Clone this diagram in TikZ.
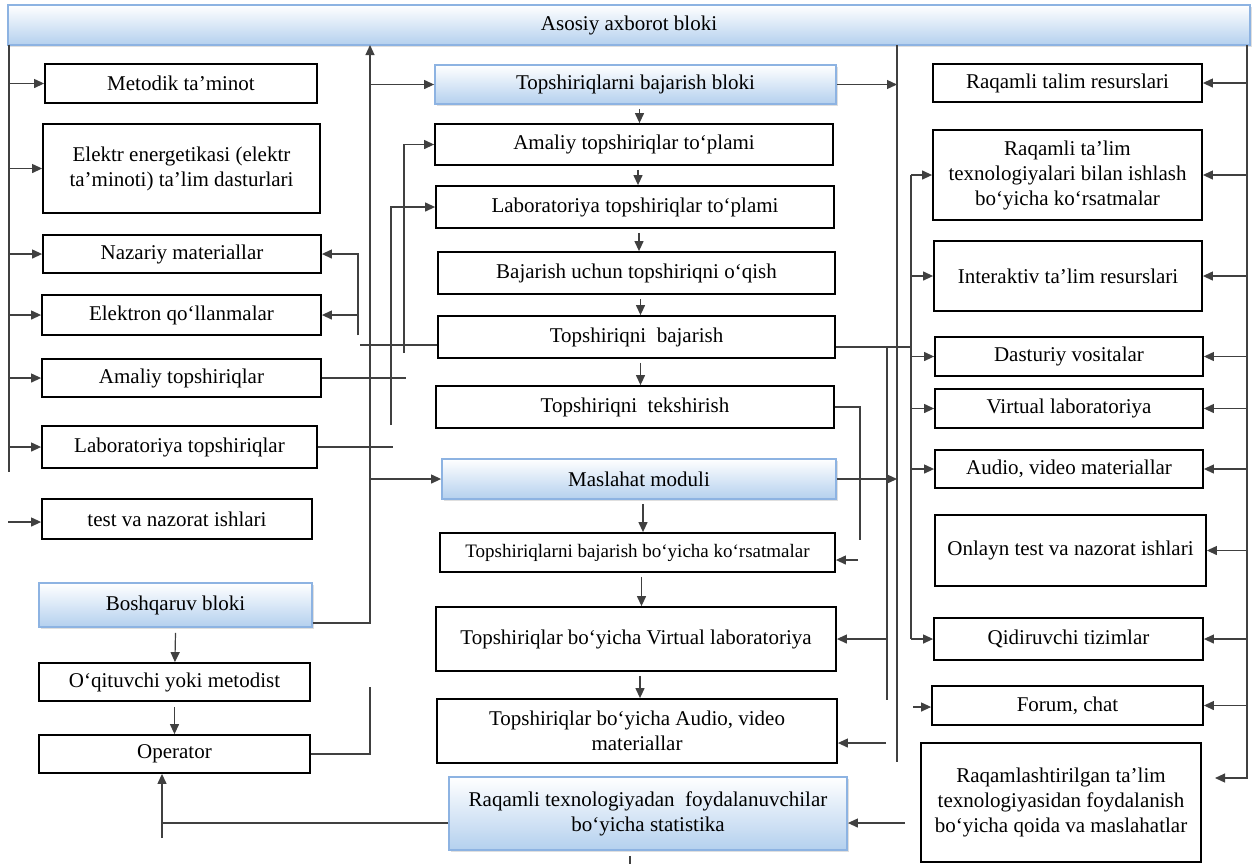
\documentclass[tikz,border=0pt]{standalone}
\usepackage{fontspec}
\setmainfont{Liberation Serif}
\usetikzlibrary{arrows.meta,positioning,calc,shadows}

\definecolor{blueedge}{HTML}{8DB3E2}
\definecolor{bluefill}{HTML}{B4D0EE}
\definecolor{wire}{HTML}{404040}

\begin{document}
\begin{tikzpicture}[
    x=0.5pt, y=-0.5pt,
    box/.style={rectangle, draw, line width=0.9pt, align=center, inner sep=1pt, font=\fontsize{10.5}{12.5}\selectfont},
    bluebox/.style={box, draw=blueedge, top color=white, bottom color=bluefill, drop shadow={shadow xshift=1pt, shadow yshift=-1pt, opacity=0.25}},
    line/.style={wire, line width=0.6pt},
    arrow/.style={line, -{Triangle[length=5pt,width=4.5pt]}}
]
\useasboundingbox (0,0) rectangle (1257,864);

% Top block
\node[bluebox, minimum width=621pt, minimum height=20pt] (asosiy) at (629,25) {Asosiy axborot bloki};

% Left column
\node[box, minimum width=136pt, minimum height=19.5pt] (metod) at (181,83.5) {Metodik ta’minot};
\node[box, minimum width=138.5pt, minimum height=44.5pt] (elektr) at (181.5,168.5) {Elektr energetikasi (elektr\\ta’minoti) ta’lim dasturlari};
\node[box, minimum width=139pt, minimum height=19pt] (nazariy) at (182,254) {Nazariy materiallar};
\node[box, minimum width=139.5pt, minimum height=20pt] (elektron) at (181.5,315) {Elektron qo‘llanmalar};
\node[box, minimum width=139.5pt, minimum height=19pt] (amaliy) at (181.5,378) {Amaliy topshiriqlar};
\node[box, minimum width=137.5pt, minimum height=21pt] (labor) at (179.5,447) {Laboratoriya topshiriqlar};
\node[box, minimum width=135pt, minimum height=20pt] (test) at (177,519) {test va nazorat ishlari};
\node[bluebox, minimum width=136.5pt, minimum height=22pt] (boshq) at (175.5,605) {Boshqaruv bloki};
\node[box, minimum width=135.5pt, minimum height=19pt] (oqit) at (174.5,682) {O‘qituvchi yoki metodist};
\node[box, minimum width=135.5pt, minimum height=19pt] (oper) at (174.5,754) {Operator};

% Middle column
\node[bluebox, minimum width=200.5pt, minimum height=19.5pt] (tbloki) at (635.5,84.5) {Topshiriqlarni bajarish bloki};
\node[box, minimum width=199pt, minimum height=20.5pt] (amtop) at (634,144.5) {Amaliy topshiriqlar to‘plami};
\node[box, minimum width=199pt, minimum height=21pt] (labtop) at (635,207) {Laboratoriya topshiriqlar to‘plami};
\node[box, minimum width=198.5pt, minimum height=21pt] (oqish) at (636.5,273) {Bajarish uchun topshiriqni o‘qish};
\node[box, minimum width=198.5pt, minimum height=21pt] (bajar) at (636.5,337) {Topshiriqni \ bajarish};
\node[box, minimum width=199pt, minimum height=21pt] (teksh) at (635,407) {Topshiriqni \ tekshirish};
\node[bluebox, minimum width=197pt, minimum height=20pt] (maslah) at (639,479) {Maslahat moduli};
\node[box, minimum width=197.5pt, minimum height=19.5pt, font=\fontsize{9.5}{11.5}\selectfont] (korsat) at (637.5,552.5) {Topshiriqlarni bajarish bo‘yicha ko‘rsatmalar};
\node[box, minimum width=200pt, minimum height=32pt] (virt) at (636,639) {Topshiriqlar bo‘yicha Virtual laboratoriya};
\node[box, minimum width=200pt, minimum height=32pt] (audio) at (637,731) {Topshiriqlar bo‘yicha Audio, video\\materiallar};
\node[bluebox, minimum width=199pt, minimum height=36.5pt] (stat) at (648,813.5) {Raqamli texnologiyadan \ foydalanuvchilar\\bo‘yicha statistika};

% Right column
\node[box, minimum width=134.5pt, minimum height=19pt] (rtr) at (1067.5,83) {Raqamli talim resurslari};
\node[box, minimum width=134.5pt, minimum height=45pt] (rtt) at (1067.5,175) {Raqamli ta’lim\\texnologiyalari bilan ishlash\\bo‘yicha ko‘rsatmalar};
\node[box, minimum width=134pt, minimum height=35pt] (inter) at (1068,276) {Interaktiv ta’lim resurslari};
\node[box, minimum width=134pt, minimum height=19.5pt] (dast) at (1069,356.5) {Dasturiy vositalar};
\node[box, minimum width=134pt, minimum height=19.5pt] (vlab) at (1069,408.5) {Virtual laboratoriya};
\node[box, minimum width=134pt, minimum height=19pt] (avm) at (1069,469) {Audio, video materiallar};
\node[box, minimum width=135.5pt, minimum height=35.5pt] (onl) at (1070.5,550.5) {Onlayn test va nazorat ishlari};
\node[box, minimum width=134.5pt, minimum height=21pt] (qid) at (1068.5,639) {Qidiruvchi tizimlar};
\node[box, minimum width=135.5pt, minimum height=19.5pt] (forum) at (1067.5,705.5) {Forum, chat};
\node[box, minimum width=140pt, minimum height=59.5pt] (raqq) at (1061,802.5) {Raqamlashtirilgan ta’lim\\texnologiyasidan foydalanish\\bo‘yicha qoida va maslahatlar};

% Bus lines and loose ends
\coordinate (lbus) at (9,45);
\coordinate (lbusend) at (9,472);
\coordinate (testin) at (8,522);
\coordinate (cbus) at (370,45);
\coordinate (opend) at (370,687);
\coordinate (opbot) at (162,838);
\coordinate (nzbus) at (358,335);
\coordinate (amin) at (404,353);
\coordinate (labin) at (391,425);
\coordinate (bjl) at (360,0);
\coordinate (rbus) at (897,45);
\coordinate (rbusend) at (897,762);
\coordinate (vbus) at (887,347);
\coordinate (vbusend) at (887,700);
\coordinate (audin) at (886,743);
\coordinate (tbus) at (911,0);
\coordinate (forin) at (913,707);
\coordinate (tkend) at (860,540);
\coordinate (korin) at (858,560);
\coordinate (statin) at (905,823);
\coordinate (statout) at (630,864);
\coordinate (obus) at (1247,45);
\coordinate (obend) at (1215,778);
\coordinate (statw) at ([yshift=-4.75pt]stat.west);
\coordinate (bajw) at ([yshift=-4pt]bajar.west);
\coordinate (baje) at ([yshift=-5pt]bajar.east);

% Left side
\draw[line] (lbus) -- (lbusend);
\foreach \n in {metod,elektr,nazariy,elektron,amaliy,labor}
    \draw[arrow] (lbus |- \n.west) -- (\n.west);
\draw[arrow] (testin) -- (testin -| test.west);

\draw[arrow] ([yshift=2.5pt]boshq.south east) -| (cbus);
\draw[arrow] (cbus |- tbloki.west) -- (tbloki.west);
\draw[arrow] (cbus |- maslah.west) -- (maslah.west);
\draw[line] (oper.east) -| (opend);
\draw[arrow] ([yshift=-2.5pt]boshq.south) -- (oqit);
\draw[arrow] ([yshift=-2.5pt]oqit.south) -- (oper);
\draw[arrow] (opbot) -- ([xshift=-6.25pt]oper.south);
\draw[line] (statw) -- (opbot |- statw);

\draw[arrow] (nzbus) |- (elektron.east);
\draw[arrow] (nzbus) |- (nazariy.east);
\draw[arrow] (amin) |- (amtop.west);
\draw[arrow] (labin) |- (labtop.west);
\draw[line] (bajw) -- (bjl |- bajw);
\draw[line] (amaliy.east) -- ++(84,0);
\draw[line] (labor.east) -- ++(75,0);

% Middle chain
\foreach \a/\b in {tbloki/amtop,amtop/labtop,labtop/oqish,oqish/bajar,bajar/teksh,maslah/korsat,korsat/virt,virt/audio}
    \draw[arrow] ([xshift=2pt,yshift=-2pt]\a.south) coordinate (s) -- (s |- \b.north);
\draw[line] (stat.south -| statout) ++(0,5) -- (statout);

% Right of middle
\draw[line] (rbus) -- (rbusend);
\draw[arrow] (tbloki.east) -- (tbloki.east -| rbus);
\draw[arrow] (maslah.east) -- (maslah.east -| rbus);
\draw[line] (baje) -- (tbus |- baje);
\draw[line] (vbus) -- (vbusend);
\draw[arrow] (vbus |- virt.east) -- (virt.east);
\draw[arrow] (audin) -- (audin -| audio.east);
\draw[line] (teksh.east) -| (tkend);
\draw[arrow] (korin) -- (korin -| korsat.east);
\draw[arrow] (statin) -- (statin -| stat.east);

\draw[line] (tbus |- rtt.west) -- (tbus |- qid.west);
\foreach \n in {rtt,inter,dast,vlab,avm,qid}
    \draw[arrow] (tbus |- \n.west) -- (\n.west);
\draw[arrow] (forin) -- (forin -| forum.west);

% Right side
\draw[arrow] (obus) |- (obend);
\foreach \n in {rtr,rtt,inter,dast,vlab,avm,onl,qid,forum}
    \draw[arrow] (obus |- \n.east) -- (\n.east);

\end{tikzpicture}
\end{document}
